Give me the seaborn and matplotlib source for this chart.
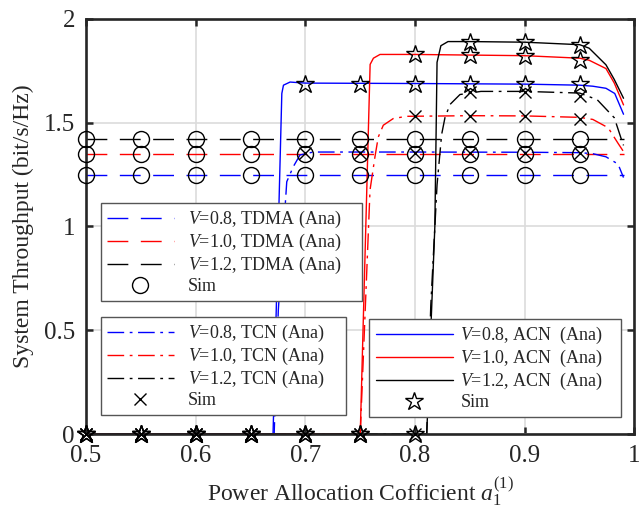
import matplotlib
matplotlib.use("Agg")
import matplotlib.pyplot as plt
import seaborn as sns
from matplotlib.lines import Line2D

# ---------------- data ----------------
# TDMA analytical curves (flat)
tdma_x = [0.5, 0.99]
tdma_08 = [1.247, 1.247]
tdma_10 = [1.347, 1.347]
tdma_12 = [1.420, 1.420]

# TCN analytical curves
tcn08_x = [0.5, 0.6715, 0.6753, 0.683, 0.689, 0.6951, 0.7072, 0.80, 0.90, 0.95, 0.962, 0.974, 0.985, 0.99]
tcn08_y = [0.0, 0.0, 0.597, 1.215, 1.288, 1.344, 1.358, 1.358, 1.357, 1.355, 1.350, 1.335, 1.300, 1.235]
tcn10_x = [0.5, 0.750, 0.7589, 0.7634, 0.7664, 0.771, 0.780, 0.792, 0.85, 0.90, 0.95, 0.962, 0.976, 0.985, 0.99]
tcn10_y = [0.0, 0.0, 1.175, 1.335, 1.430, 1.487, 1.519, 1.530, 1.533, 1.532, 1.525, 1.515, 1.475, 1.400, 1.360]
tcn12_x = [0.5, 0.8106, 0.8143, 0.820, 0.8242, 0.8272, 0.8318, 0.8409, 0.86, 0.90, 0.95, 0.966, 0.9816, 0.988, 0.99]
tcn12_y = [0.0, 0.0, 0.620, 1.200, 1.443, 1.523, 1.587, 1.635, 1.650, 1.650, 1.642, 1.610, 1.523, 1.420, 1.390]

# ACN analytical curves
acn08_x = [0.5, 0.6705, 0.6785, 0.680, 0.686, 0.70, 0.80, 0.90, 0.95, 0.962, 0.974, 0.982, 0.99]
acn08_y = [0.0, 0.0, 1.640, 1.680, 1.695, 1.690, 1.688, 1.685, 1.680, 1.675, 1.665, 1.640, 1.540]
acn10_x = [0.5, 0.750, 0.759, 0.762, 0.768, 0.80, 0.85, 0.90, 0.95, 0.9587, 0.974, 0.9816, 0.99]
acn10_y = [0.0, 0.0, 1.780, 1.810, 1.828, 1.828, 1.825, 1.822, 1.810, 1.800, 1.760, 1.690, 1.585]
acn12_x = [0.5, 0.8106, 0.818, 0.820, 0.8235, 0.83, 0.85, 0.90, 0.95, 0.9587, 0.974, 0.9816, 0.99]
acn12_y = [0.0, 0.0, 1.000, 1.790, 1.870, 1.890, 1.890, 1.887, 1.875, 1.858, 1.778, 1.707, 1.617]

# Simulation points
sim_x = [0.5, 0.55, 0.6, 0.65, 0.7, 0.75, 0.8, 0.85, 0.9, 0.95]
tdma_sim_08 = [1.247, 1.247, 1.247, 1.247, 1.247, 1.247, 1.247, 1.247, 1.247, 1.247]
tdma_sim_10 = [1.347, 1.347, 1.347, 1.347, 1.347, 1.347, 1.347, 1.347, 1.347, 1.347]
tdma_sim_12 = [1.420, 1.420, 1.420, 1.420, 1.420, 1.420, 1.420, 1.420, 1.420, 1.420]
tcn_sim_08 = [0, 0, 0, 0, 1.355, 1.355, 1.355, 1.355, 1.355, 1.355]
tcn_sim_10 = [0, 0, 0, 0, 0, 0, 1.530, 1.530, 1.530, 1.515]
tcn_sim_12 = [0, 0, 0, 0, 0, 0, 0, 1.645, 1.645, 1.630]
acn_sim_08 = [0, 0, 0, 0, 1.685, 1.685, 1.685, 1.685, 1.685, 1.685]
acn_sim_10 = [0, 0, 0, 0, 0, 0, 1.828, 1.825, 1.822, 1.802]
acn_sim_12 = [0, 0, 0, 0, 0, 0, 0, 1.888, 1.888, 1.874]

x_ticks = [0.5, 0.6, 0.7, 0.8, 0.9, 1.0]
x_tick_labels = ["0.5", "0.6", "0.7", "0.8", "0.9", "1"]
y_ticks = [0, 0.5, 1, 1.5, 2]
y_tick_labels = ["0", "0.5", "1", "1.5", "2"]

labels_tdma = ["$V$=0.8, TDMA (Ana)", "$V$=1.0, TDMA (Ana)", "$V$=1.2, TDMA (Ana)", "Sim"]
labels_tcn = ["$V$=0.8, TCN (Ana)", "$V$=1.0, TCN (Ana)", "$V$=1.2, TCN (Ana)", "Sim"]
labels_acn = ["$V$=0.8, ACN  (Ana)", "$V$=1.0, ACN  (Ana)", "$V$=1.2, ACN  (Ana)", "Sim"]
colors = ["#0000ff", "#ff0000", "#000000"]

# ---------------- style ----------------
sns.set_style("ticks")
plt.rcParams["font.family"] = ["Liberation Serif", "DejaVu Serif"]
plt.rcParams["mathtext.fontset"] = "custom"
plt.rcParams["mathtext.rm"] = "Liberation Serif"
plt.rcParams["mathtext.it"] = "Liberation Serif:italic"
plt.rcParams["mathtext.bf"] = "Liberation Serif:bold"

DASH = (0, (15, 9))
DASHDOT = (0, (12, 4, 2, 4))

fig = plt.figure(figsize=(6.4, 5.16), dpi=100)
ax = fig.add_axes([0.1344, 0.1589, 0.857, 0.8048])


def curve(x, y, color, ls):
    sns.lineplot(x=x, y=y, color=color, linestyle=ls, lw=1.0, estimator=None,
                 sort=False, ax=ax, legend=False)


for yv, c in zip([tdma_08, tdma_10, tdma_12], colors):
    curve(tdma_x, yv, c, DASH)
for xv, yv, c in zip([tcn08_x, tcn10_x, tcn12_x], [tcn08_y, tcn10_y, tcn12_y], colors):
    curve(xv, yv, c, DASHDOT)
for xv, yv, c in zip([acn08_x, acn10_x, acn12_x], [acn08_y, acn10_y, acn12_y], colors):
    curve(xv, yv, c, "-")


def sims(yv, marker, ms):
    sns.lineplot(x=sim_x, y=yv, marker=marker, linestyle="", markersize=ms,
                 markerfacecolor="none", markeredgecolor="black",
                 markeredgewidth=1.0, color="black", estimator=None, ax=ax,
                 legend=False, clip_on=False, zorder=5)


STAR_MS = 13.5
for yv in [tdma_sim_08, tdma_sim_10, tdma_sim_12]:
    sims(yv, "o", 11.5)
for yv in [tcn_sim_08, tcn_sim_10, tcn_sim_12]:
    sims(yv, "x", 8)
for yv in [acn_sim_08, acn_sim_10, acn_sim_12]:
    sims(yv, "*", STAR_MS)

# ---------------- axes ----------------
ax.set_xlim(0.5, 1.0)
ax.set_ylim(0, 2)
ax.set_xticks(x_ticks)
ax.set_xticklabels(x_tick_labels)
ax.set_yticks(y_ticks)
ax.set_yticklabels(y_tick_labels)
ax.grid(True, color="#dcdcdc", lw=1.2)
ax.set_axisbelow(True)
ax.tick_params(direction="in", length=5, width=1.8, top=True, right=True,
               labelsize=18, pad=8, colors="#262626", labelcolor="#262626")
for s in ax.spines.values():
    s.set_linewidth(1.9)
    s.set_color("#262626")
    s.set_visible(True)
ax.set_xlabel("Power Allocation Cofficient $a_1^{(1)}$", fontsize=17,
              color="#262626", labelpad=6)
ax.set_ylabel("System Throughput (bit/s/Hz)", fontsize=17, color="#262626",
              labelpad=7)

# ---------------- legends ----------------
def make_handles(ls, marker, ms):
    hs = [Line2D([], [], color=c, lw=1.0, linestyle=ls) for c in colors]
    hs.append(Line2D([], [], color="black", linestyle="", marker=marker,
                     markersize=ms, markerfacecolor="none",
                     markeredgecolor="black", markeredgewidth=1.0))
    return hs


common = dict(loc="upper left", bbox_transform=fig.transFigure, borderaxespad=0,
              frameon=True, fancybox=False, edgecolor="#555555", framealpha=1,
              fontsize=13, labelspacing=0.1, borderpad=0.35, numpoints=1,
              mode="expand")

leg1 = ax.legend(make_handles(DASH, "o", 11.5), labels_tdma,
                 bbox_to_anchor=(0.1573, 0.6066 - 0.2, 0.4078, 0.2),
                 handlelength=3.7, handletextpad=0.8, **common)
leg1.get_frame().set_linewidth(1.0)
ax.add_artist(leg1)
leg2 = ax.legend(make_handles(DASHDOT, "x", 8), labels_tcn,
                 bbox_to_anchor=(0.1573, 0.3862 - 0.2, 0.3828, 0.2),
                 handlelength=3.7, handletextpad=0.8, **common)
leg2.get_frame().set_linewidth(1.0)
ax.add_artist(leg2)
leg3 = ax.legend(make_handles("-", "*", STAR_MS), labels_acn,
                 bbox_to_anchor=(0.577, 0.3818 - 0.2, 0.3933, 0.2),
                 handlelength=4.3, handletextpad=0.4, **common)
leg3.get_frame().set_linewidth(1.0)

fig.savefig("out.png", dpi=100)
